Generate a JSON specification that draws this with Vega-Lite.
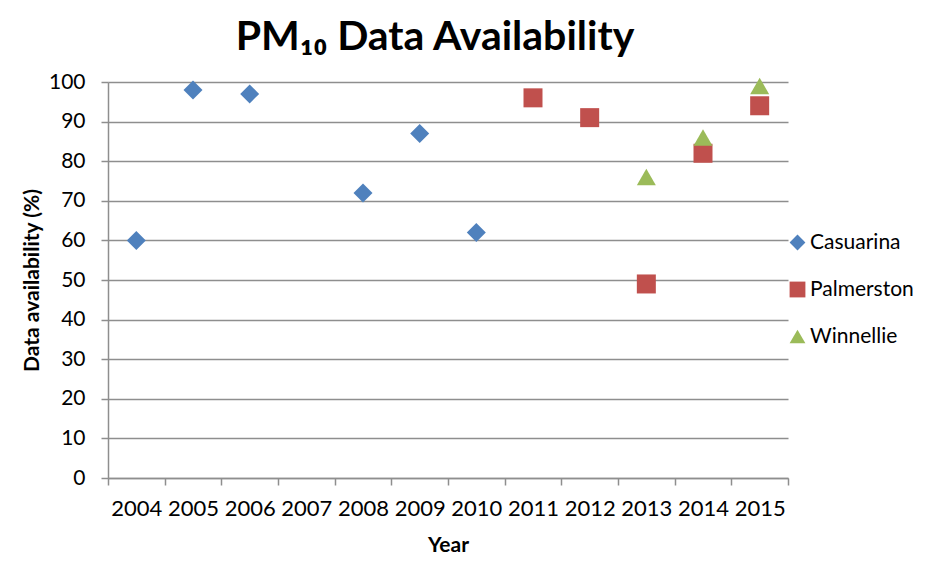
{
  "$schema": "https://vega.github.io/schema/vega-lite/v6.json",
  "autosize": {"type": "none"},
  "padding": {"left": 108, "top": 82, "right": 152, "bottom": 91},
  "width": 680,
  "height": 396,
  "background": "white",
  "title": {
    "text": "PM₁₀ Data Availability",
    "font": "Lato",
    "fontSize": 41,
    "fontWeight": "bold",
    "color": "#000000",
    "anchor": "middle",
    "dx": -13,
    "offset": 12
  },
  "config": {
    "font": "Lato",
    "view": {"stroke": null},
    "axis": {
      "labelFont": "Lato",
      "labelFontSize": 21,
      "labelColor": "#000000",
      "titleFont": "Lato",
      "titleFontSize": 21,
      "titleFontWeight": "bold",
      "titleColor": "#000000",
      "domainColor": "#8E8E8E",
      "tickColor": "#8E8E8E",
      "gridColor": "#8E8E8E",
      "domainWidth": 1.5,
      "tickWidth": 1.5,
      "gridWidth": 1.5,
      "tickSize": 7
    }
  },
  "data": {
    "values": [
      {"Year": "2004", "Site": "Casuarina", "Availability": 60},
      {"Year": "2005", "Site": "Casuarina", "Availability": 98},
      {"Year": "2006", "Site": "Casuarina", "Availability": 97},
      {"Year": "2008", "Site": "Casuarina", "Availability": 72},
      {"Year": "2009", "Site": "Casuarina", "Availability": 87},
      {"Year": "2010", "Site": "Casuarina", "Availability": 62},
      {"Year": "2011", "Site": "Palmerston", "Availability": 96},
      {"Year": "2012", "Site": "Palmerston", "Availability": 91},
      {"Year": "2013", "Site": "Palmerston", "Availability": 49},
      {"Year": "2014", "Site": "Palmerston", "Availability": 82},
      {"Year": "2015", "Site": "Palmerston", "Availability": 94},
      {"Year": "2013", "Site": "Winnellie", "Availability": 76},
      {"Year": "2014", "Site": "Winnellie", "Availability": 86},
      {"Year": "2015", "Site": "Winnellie", "Availability": 99}
    ]
  },
  "mark": {"type": "point", "filled": true, "opacity": 1, "size": 361},
  "encoding": {
    "x": {
      "field": "Year",
      "type": "ordinal",
      "scale": {
        "domain": ["2004", "2005", "2006", "2007", "2008", "2009", "2010", "2011", "2012", "2013", "2014", "2015"],
        "type": "band",
        "paddingInner": 0,
        "paddingOuter": 0
      },
      "axis": {
        "labelAngle": 0,
        "labelFontSize": 22,
        "tickBand": "extent",
        "grid": false,
        "labelPadding": 13,
        "titlePadding": 15,
        "title": "Year"
      }
    },
    "y": {
      "field": "Availability",
      "type": "quantitative",
      "scale": {"domain": [0, 100], "nice": false, "zero": true},
      "axis": {
        "values": [0, 10, 20, 30, 40, 50, 60, 70, 80, 90, 100],
        "grid": true,
        "labelPadding": 16,
        "titlePadding": 6,
        "title": "Data availability (%)"
      }
    },
    "color": {
      "field": "Site",
      "type": "nominal",
      "scale": {
        "domain": ["Casuarina", "Palmerston", "Winnellie"],
        "range": ["#4F81BD", "#C0504D", "#9BBB59"]
      },
      "legend": {
        "title": null,
        "orient": "none",
        "legendX": 679,
        "legendY": 150,
        "padding": 0,
        "symbolSize": 250,
        "symbolOpacity": 1,
        "labelFont": "Lato",
        "labelFontSize": 21,
        "labelColor": "#000000",
        "labelOffset": 2,
        "rowPadding": 24
      }
    },
    "shape": {
      "field": "Site",
      "type": "nominal",
      "scale": {
        "domain": ["Casuarina", "Palmerston", "Winnellie"],
        "range": ["diamond", "square", "triangle-up"]
      }
    }
  }
}
